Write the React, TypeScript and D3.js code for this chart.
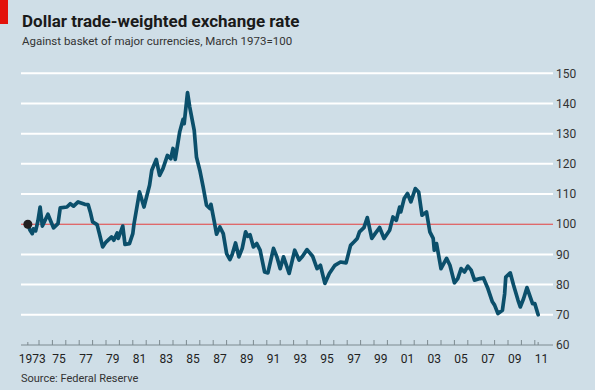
import React, { useRef, useEffect } from "react";
import * as d3 from "d3";

const months: string[] = [
  "1973-03", "1973-05", "1973-07", "1973-08", "1973-10", "1973-12",
  "1974-02", "1974-04", "1974-05", "1974-09", "1974-11",
  "1975-02", "1975-06", "1975-08", "1976-02", "1976-05", "1976-08", "1976-12",
  "1977-06", "1977-09", "1977-11", "1978-01", "1978-05", "1978-07", "1978-10",
  "1979-01", "1979-06", "1979-08", "1979-11", "1979-12",
  "1980-04", "1980-06", "1980-10", "1981-01", "1981-02", "1981-07", "1981-11",
  "1982-04", "1982-06", "1982-10", "1983-01", "1983-04", "1983-08", "1983-11",
  "1984-01", "1984-03", "1984-07", "1984-10", "1984-11",
  "1985-02", "1985-04", "1985-08", "1985-10",
  "1986-01", "1986-04", "1986-07", "1986-10", "1986-11",
  "1987-02", "1987-04", "1987-07", "1987-10",
  "1988-01", "1988-04", "1988-06", "1988-09", "1988-12",
  "1989-03", "1989-06", "1989-08", "1989-10",
  "1990-01", "1990-04", "1990-07", "1990-11", "1991-02", "1991-07", "1991-10",
  "1992-01", "1992-04", "1992-09", "1993-02", "1993-06", "1993-09",
  "1994-01", "1994-06", "1994-10", "1995-01", "1995-05", "1995-09",
  "1996-02", "1996-07", "1996-12", "1997-04", "1997-07", "1997-10", "1997-12",
  "1998-04", "1998-07", "1998-11", "1999-02", "1999-06", "1999-10",
  "2000-03", "2000-06", "2000-09", "2000-12", "2001-01", "2001-04", "2001-07", "2001-10",
  "2002-02", "2002-05", "2002-08", "2002-12",
  "2003-03", "2003-06", "2003-07", "2003-09",
  "2004-01", "2004-06", "2004-09", "2005-01", "2005-04", "2005-07", "2005-10",
  "2006-01", "2006-04", "2006-07", "2006-12",
  "2007-03", "2007-07", "2007-11", "2008-01", "2008-04", "2008-08", "2008-10", "2008-11",
  "2009-03", "2009-06", "2009-10", "2009-12",
  "2010-03", "2010-06", "2010-11", "2011-01", "2011-04",
];

const rates: number[] = [
  100, 98, 96.9, 98.5, 97.8, 101,
  105.7, 99.4, 100.2, 103.3, 101.5,
  98.8, 100.2, 105.4, 105.7, 106.8, 106, 107.4,
  106.6, 106.5, 104, 100.8, 99.9, 97, 92.5,
  94.1, 95.8, 94.7, 97.1, 95.3,
  99.4, 93.3, 93.6, 96.9, 99.9, 110.7, 105.7,
  112.9, 117.9, 121.5, 116.2, 118.4, 122.8, 121.7,
  125.1, 121.5, 130.6, 134.7, 133.3,
  143.6, 138.8, 131.1, 122.3,
  117.9, 112.4, 106.3, 105.2, 106.6,
  100.8, 96.7, 99.1, 96.9,
  90.3, 88.3, 90, 93.8, 89.2,
  92, 97.5, 96, 96.5,
  92.5, 93.6, 91.4, 84.2, 83.9, 92, 89.2,
  85.3, 89.2, 83.7, 91.4, 88.1, 89.4,
  91.6, 89.4, 85.3, 86.4, 80.4, 83.7,
  86.4, 87.5, 87.2, 93, 94.1, 95.3, 97.5,
  98.9, 102.2, 95.3, 96.9, 98.9, 95.3,
  98, 102.4, 101.3, 105.7, 104.1, 108.5, 110.2, 107.4,
  111.8, 110.7, 103, 104.1,
  97.5, 95.3, 91.4, 93.6,
  85.3, 88.7, 86.4, 80.6, 82, 85.3, 84.2,
  86.1, 84.8, 81.5, 82,
  82.2, 78.7, 74.3, 73.2, 70.4, 71.5, 77, 82.5,
  83.9, 79.8, 74.8, 72.6,
  75.4, 79, 73.7, 73.7, 70,
];

const yTicks: number[] = [60, 70, 80, 90, 100, 110, 120, 130, 140, 150];
const yearLabels: string[] = [
  "1973", "75", "77", "79", "81", "83", "85", "87", "89", "91",
  "93", "95", "97", "99", "01", "03", "05", "07", "09", "11",
];

const BG = "#cfdee7";
const LINE = "#0b4f6b";

function toYear(m: string): number {
  const [y, mo] = m.split("-").map(Number);
  return y + (mo - 1) / 12;
}

function drawChart(svgEl: SVGSVGElement) {
  const svg = d3.select(svgEl);
  svg.selectAll("*").remove();
  const font = "'Liberation Sans Narrow', 'Roboto', sans-serif";

  svg.append("rect").attr("width", 595).attr("height", 390).attr("fill", BG);
  svg.append("rect").attr("x", 0).attr("y", 0).attr("width", 8).attr("height", 24).attr("fill", "#e3120b");

  svg.append("text").attr("x", 22).attr("y", 27)
    .attr("font-family", font).attr("font-weight", "bold").attr("font-size", 17)
    .attr("fill", "#1a1a1a").text("Dollar trade-weighted exchange rate");
  svg.append("text").attr("x", 22).attr("y", 45)
    .attr("font-family", font).attr("font-size", 11.5)
    .attr("fill", "#333").text("Against basket of major currencies, March 1973=100");

  const x = d3.scaleLinear().domain([1973, 2012]).range([25.6, 548.2]);
  const y = d3.scaleLinear().domain([60, 150]).range([345, 73.3]);

  // gridlines + right labels
  const grid = svg.append("g");
  yTicks.forEach((t) => {
    if (t !== 60 && t !== 100) {
      grid.append("line").attr("x1", 21).attr("x2", 553)
        .attr("y1", y(t)).attr("y2", y(t))
        .attr("stroke", "#ffffff").attr("stroke-width", 2);
    }
    grid.append("text").attr("x", 556).attr("y", y(t)).attr("dy", "0.35em")
      .attr("font-family", font).attr("font-size", 12).attr("fill", "#333").text(String(t));
  });

  // bottom axis
  const axis = svg.append("g").attr("transform", `translate(0, ${y(60)})`);
  axis.append("line").attr("x1", 21).attr("x2", 553).attr("stroke", "#7d8a90").attr("stroke-width", 1);
  const years = d3.range(1974, 2012);
  axis.selectAll("line.tick").data(years).enter().append("line")
    .attr("class", "tick")
    .attr("x1", (d) => x(d)).attr("x2", (d) => x(d))
    .attr("y1", 0).attr("y2", -5)
    .attr("stroke", "#7d8a90");
  [toYear(months[0]), toYear(months[months.length - 1])].forEach((d) => {
    axis.append("line").attr("x1", x(d)).attr("x2", x(d)).attr("y1", 0).attr("y2", -3)
      .attr("stroke", "#7d8a90");
  });
  yearLabels.forEach((lab, i) => {
    const yr = 1973 + i * 2;
    axis.append("text").attr("x", x(yr + 0.5)).attr("y", 18)
      .attr("text-anchor", "middle").attr("font-family", font).attr("font-size", 12)
      .attr("fill", "#222").text(lab);
  });

  svg.append("text").attr("x", 21).attr("y", 382)
    .attr("font-family", font).attr("font-size", 11).attr("fill", "#333").text("Source: Federal Reserve");

  // 100 reference line
  svg.append("line").attr("x1", 21).attr("x2", 553).attr("y1", y(100)).attr("y2", y(100))
    .attr("stroke", "#e5403f").attr("stroke-width", 1);

  const data = months.map((m, i) => ({ t: toYear(m), v: rates[i] }));
  const line = d3.line<{ t: number; v: number }>().x((d) => x(d.t)).y((d) => y(d.v));
  svg.append("path").datum(data).attr("d", line).attr("fill", "none")
    .attr("stroke", LINE).attr("stroke-width", 3.7)
    .attr("stroke-linejoin", "round").attr("stroke-linecap", "round");

  svg.append("circle").attr("cx", x(data[0].t)).attr("cy", y(100)).attr("r", 4.5).attr("fill", "#231f20");
}

export default function App() {
  const ref = useRef<SVGSVGElement>(null);
  useEffect(() => {
    if (ref.current == null) return;
    drawChart(ref.current);
  }, []);
  return (
    <svg ref={ref} width={595} height={390}
      style={{ position: "absolute", left: 0, top: 0, display: "block" }} />
  );
}
